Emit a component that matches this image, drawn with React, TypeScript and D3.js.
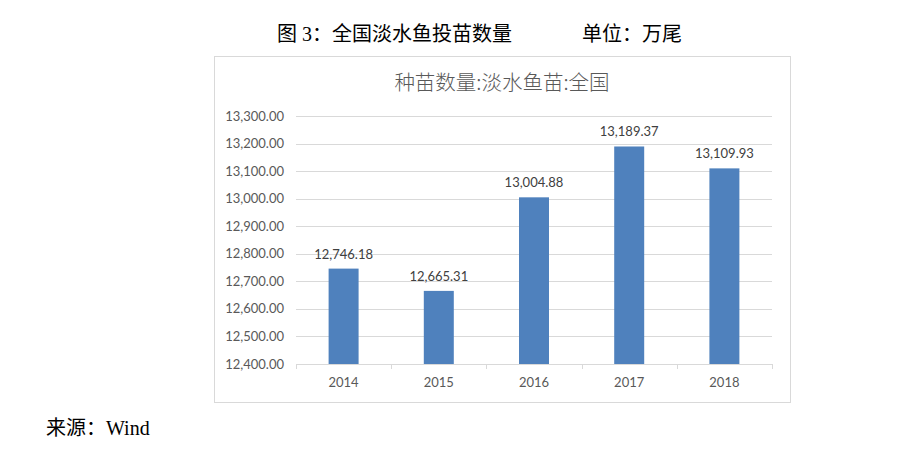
import React, {useEffect, useRef} from 'react';
import * as d3 from 'd3';

const years = ['2014', '2015', '2016', '2017', '2018'];
const fryCounts = [12746.18, 12665.31, 13004.88, 13189.37, 13109.93];
const yTicks = [12400, 12500, 12600, 12700, 12800, 12900, 13000, 13100, 13200, 13300];

const App = () => {
  const ref = useRef<SVGSVGElement>(null);

  useEffect(() => {
    drawChart();
    return () => {
      d3.select(ref.current).selectAll('*').remove();
    };
  }, []);

  const drawChart = () => {
    const width = 903;
    const height = 458;
    const plot = {left: 296, right: 772, top: 116, bottom: 364};
    const cjk = '"Noto Sans CJK SC", sans-serif';
    const serif = '"Liberation Serif", "Noto Sans CJK SC", serif';
    const num = 'Lato, "Noto Sans", sans-serif';
    const grey = '#595959';

    const svg = d3.select(ref.current)
      .attr('width', width)
      .attr('height', height);

    svg.append('rect')
      .attr('width', width).attr('height', height).attr('fill', '#fff');

    // figure caption and source (outside chart)
    const outer = [
      {t: '图 3：全国淡水鱼投苗数量', x: 277, y: 41},
      {t: '单位：万尾', x: 582, y: 41},
      {t: '来源：Wind', x: 46, y: 435},
    ];
    svg.append('g')
      .selectAll('text')
      .data(outer)
      .enter().append('text')
      .attr('x', d => d.x).attr('y', d => d.y)
      .attr('font-family', serif)
      .attr('font-size', 20)
      .attr('fill', '#000')
      .text(d => d.t);

    // chart frame
    svg.append('rect')
      .attr('x', 214.5).attr('y', 56.5)
      .attr('width', 576).attr('height', 346)
      .attr('fill', '#fff')
      .attr('stroke', '#d9d9d9');

    svg.append('text')
      .attr('x', 502).attr('y', 90)
      .attr('text-anchor', 'middle')
      .attr('font-family', cjk)
      .attr('font-weight', 300)
      .attr('font-size', 20.5)
      .attr('fill', grey)
      .text('种苗数量:淡水鱼苗:全国');

    const x = d3.scaleBand<string>()
      .domain(years)
      .range([plot.left, plot.right])
      .paddingInner(0.685)
      .paddingOuter(0.3425);

    const y = d3.scaleLinear()
      .domain([12400, 13300])
      .range([plot.bottom, plot.top]);

    const fmt = d3.format(',.2f');

    // gridlines
    svg.append('g')
      .selectAll('line')
      .data(yTicks.slice(1))
      .enter().append('line')
      .attr('x1', plot.left).attr('x2', plot.right)
      .attr('y1', d => Math.round(y(d)) + 0.5)
      .attr('y2', d => Math.round(y(d)) + 0.5)
      .attr('stroke', '#d9d9d9');

    // y labels
    svg.append('g')
      .selectAll('text')
      .data(yTicks)
      .enter().append('text')
      .attr('x', 284)
      .attr('y', d => y(d))
      .attr('dy', '0.35em')
      .attr('text-anchor', 'end')
      .attr('font-family', num)
      .attr('font-size', 13)
      .attr('fill', grey)
      .text(d => fmt(d));

    // bars
    const pairs = years.map((yr, i) => ({yr, v: fryCounts[i]}));
    svg.append('g')
      .selectAll('rect')
      .data(pairs)
      .enter().append('rect')
      .attr('x', d => x(d.yr)!)
      .attr('y', d => y(d.v))
      .attr('width', x.bandwidth())
      .attr('height', d => plot.bottom - y(d.v))
      .attr('fill', '#4f81bd');

    // value labels
    svg.append('g')
      .selectAll('text')
      .data(pairs)
      .enter().append('text')
      .attr('x', d => x(d.yr)! + x.bandwidth() / 2)
      .attr('y', d => y(d.v) - 10)
      .attr('text-anchor', 'middle')
      .attr('font-family', num)
      .attr('font-size', 13)
      .attr('fill', '#404040')
      .text(d => fmt(d.v));

    // x axis line + ticks
    const step = x.step();
    const axis = svg.append('g');
    axis.append('line')
      .attr('x1', plot.left).attr('x2', plot.right)
      .attr('y1', plot.bottom + 0.5).attr('y2', plot.bottom + 0.5)
      .attr('stroke', '#d9d9d9');
    axis.selectAll('line.tick')
      .data(d3.range(years.length + 1))
      .enter().append('line')
      .attr('class', 'tick')
      .attr('x1', i => Math.round(plot.left + i * step) + 0.5)
      .attr('x2', i => Math.round(plot.left + i * step) + 0.5)
      .attr('y1', plot.bottom).attr('y2', plot.bottom + 5)
      .attr('stroke', '#d9d9d9');
    axis.selectAll('text')
      .data(years)
      .enter().append('text')
      .attr('x', d => x(d)! + x.bandwidth() / 2)
      .attr('y', 387)
      .attr('text-anchor', 'middle')
      .attr('font-family', num)
      .attr('font-size', 13)
      .attr('fill', grey)
      .text(d => d);
  };

  return (
    <div style={{position: 'absolute', left: 0, top: 0}}>
      <svg ref={ref}></svg>
    </div>
  );
};

export default App;
